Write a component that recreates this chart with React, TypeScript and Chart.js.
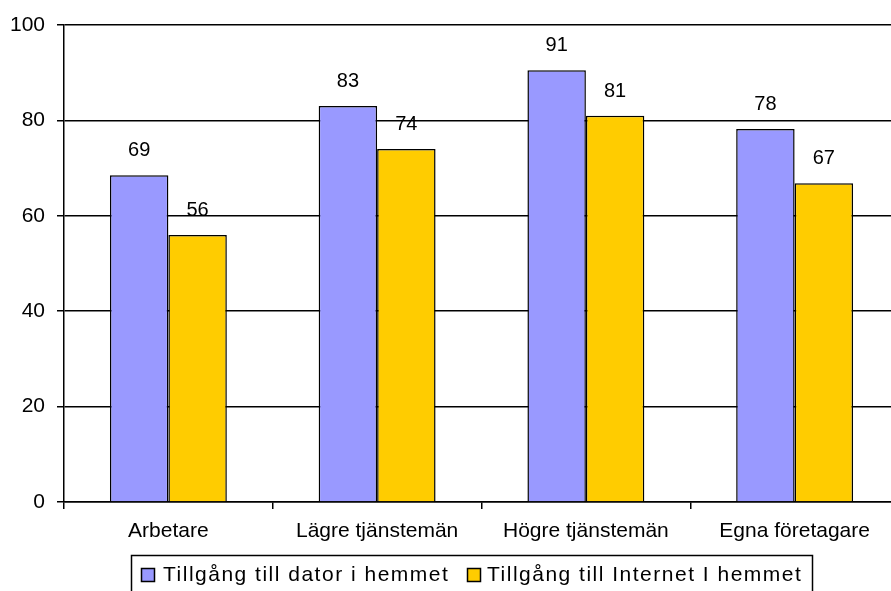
import React, { useEffect, useRef } from "react";
import { Chart, registerables } from "chart.js";

Chart.register(...registerables);

const categories = ["Arbetare", "Lägre tjänstemän", "Högre tjänstemän", "Egna företagare"];
const datorValues = [68.5, 83, 90.5, 78.2];
const internetValues = [56, 74, 81, 66.8];
const seriesNames = ["Tillgång till dator i hemmet", "Tillgång till Internet I hemmet"];
const seriesColors = ["#9999FF", "#FFCC00"];
const yTicks = [0, 20, 40, 60, 80, 100];

const FONT = "'Liberation Sans', Arial, sans-serif";

const valueLabelPlugin = {
  id: "valueLabels",
  afterDatasetsDraw(chart: any) {
    const ctx = chart.ctx;
    ctx.save();
    ctx.font = `20px ${FONT}`;
    ctx.fillStyle = "#000";
    ctx.textAlign = "center";
    ctx.textBaseline = "alphabetic";
    chart.data.datasets.forEach((ds: any, di: number) => {
      const meta = chart.getDatasetMeta(di);
      meta.data.forEach((el: any, i: number) => {
        const v = ds.data[i];
        ctx.fillText(String(Math.round(v)), el.x, el.y - 19);
      });
    });
    ctx.restore();
  },
};

const boxLegendPlugin = {
  id: "boxLegend",
  afterDraw(chart: any) {
    const ctx = chart.ctx;
    ctx.save();
    ctx.strokeStyle = "#000";
    ctx.lineWidth = 1.5;
    ctx.strokeRect(131.5, 555.5, 681, 50);
    const items = [
      { sq: 141, tx: 163 },
      { sq: 467, tx: 487 },
    ];
    ctx.font = `21px ${FONT}`;
    (ctx as any).letterSpacing = "1.5px";
    ctx.textAlign = "left";
    ctx.textBaseline = "alphabetic";
    items.forEach((it, i) => {
      ctx.fillStyle = seriesColors[i];
      ctx.fillRect(it.sq, 568, 14, 14);
      ctx.lineWidth = 1.5;
      ctx.strokeStyle = "#000";
      ctx.strokeRect(it.sq + 0.5, 568.5, 13, 13);
      ctx.fillStyle = "#000";
      ctx.fillText(seriesNames[i], it.tx, 581);
    });
    (ctx as any).letterSpacing = "0px";
    ctx.restore();
  },
};

export default function App() {
  const ref = useRef<HTMLCanvasElement | null>(null);

  useEffect(() => {
    if (!ref.current) return;
    const chart = new Chart(ref.current, {
      type: "bar",
      data: {
        labels: categories,
        datasets: [
          {
            label: seriesNames[0],
            data: datorValues,
            backgroundColor: seriesColors[0],
            borderColor: "#000",
            borderWidth: 1.5,
          },
          {
            label: seriesNames[1],
            data: internetValues,
            backgroundColor: seriesColors[1],
            borderColor: "#000",
            borderWidth: 1.5,
          },
        ],
      },
      options: {
        animation: false,
        responsive: true,
        maintainAspectRatio: false,
        datasets: { bar: { categoryPercentage: 0.56, barPercentage: 1 } },
        layout: { padding: { left: 0, top: 25, right: 0, bottom: 44 } },
        plugins: {
          legend: { display: false },
          tooltip: { enabled: false },
        },
        scales: {
          x: {
            offset: true,
            grid: {
              offset: true,
              drawOnChartArea: false,
              drawTicks: true,
              tickLength: 7,
              color: "#000",
              lineWidth: 1.5,
            },
            border: { display: true, color: "#000", width: 1.5 },
            ticks: {
              color: "#000",
              font: { family: FONT, size: 21 },
              padding: 10,
              maxRotation: 0,
            },
            afterFit: (scale: any) => {
              scale.height = 45;
            },
          },
          y: {
            min: 0,
            max: 100,
            afterBuildTicks: (scale: any) => {
              scale.ticks = yTicks.map((v) => ({ value: v }));
            },
            grid: {
              color: "#000",
              lineWidth: 1.5,
              drawTicks: true,
              tickLength: 7,
            },
            border: { display: true, color: "#000", width: 1.5 },
            ticks: {
              color: "#000",
              font: { family: FONT, size: 21 },
              padding: 12,
            },
            afterFit: (scale: any) => {
              scale.width = 64;
            },
          },
        },
      },
      plugins: [valueLabelPlugin, boxLegendPlugin],
    });
    return () => chart.destroy();
  }, []);

  return (
    <div
      style={{
        position: "fixed",
        left: 0,
        top: 0,
        width: 891,
        height: 591,
        overflow: "hidden",
        background: "#fff",
      }}
    >
      <div style={{ position: "relative", width: 899, height: 591 }}>
        <canvas ref={ref} />
      </div>
    </div>
  );
}
